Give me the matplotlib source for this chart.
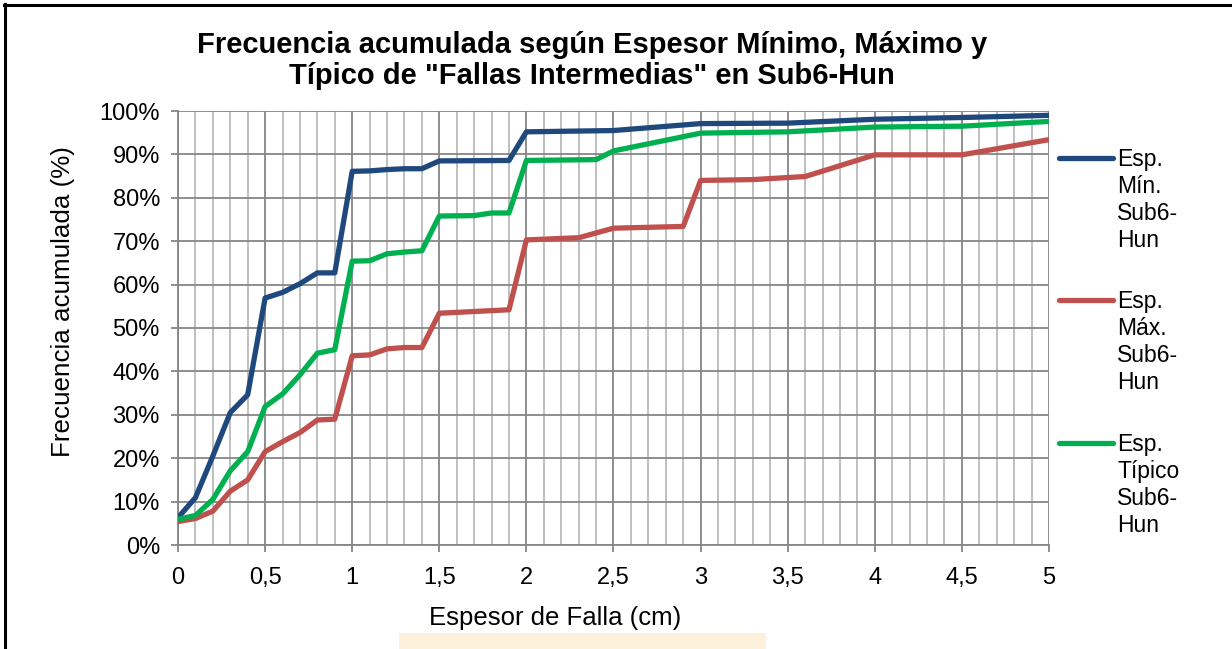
import matplotlib
matplotlib.use("Agg")
import matplotlib.pyplot as plt
from matplotlib.lines import Line2D
from matplotlib.patches import Rectangle
from matplotlib.ticker import MultipleLocator, FuncFormatter

plt.rcParams['font.family'] = ['Liberation Sans', 'DejaVu Sans']

# ---- data ----
x_min = [0, 0.1, 0.2, 0.3, 0.4, 0.5, 0.6, 0.7, 0.8, 0.9, 1.0, 1.1, 1.2, 1.3, 1.4,
         1.5, 1.9, 2.0, 2.5, 3.0, 3.5, 4.0, 4.5, 5.0]
y_min = [6.3, 10.9, 20.5, 30.5, 34.6, 56.9, 58.2, 60.2, 62.7, 62.7, 86.1, 86.2, 86.5, 86.7, 86.7,
         88.5, 88.6, 95.2, 95.5, 97.1, 97.2, 98.1, 98.5, 99.0]

x_max = [0, 0.1, 0.2, 0.3, 0.4, 0.5, 0.6, 0.7, 0.8, 0.9, 1.0, 1.1, 1.2, 1.3, 1.4,
         1.5, 1.6, 1.9, 2.0, 2.3, 2.5, 2.9, 3.0, 3.3, 3.6, 4.0, 4.5, 5.0]
y_max = [5.4, 6.1, 7.8, 12.4, 15.0, 21.5, 23.8, 25.9, 28.8, 29.0, 43.6, 43.8, 45.2, 45.5, 45.5,
         53.4, 53.6, 54.2, 70.3, 70.8, 73.0, 73.4, 84.0, 84.2, 84.9, 89.9, 89.9, 93.4]

x_tip = [0, 0.1, 0.2, 0.3, 0.4, 0.5, 0.6, 0.7, 0.8, 0.9, 1.0, 1.1, 1.2, 1.3, 1.4,
         1.5, 1.7, 1.8, 1.9, 2.0, 2.4, 2.5, 3.0, 3.5, 4.0, 4.5, 5.0]
y_tip = [5.9, 6.8, 10.5, 17.1, 21.5, 31.9, 34.8, 39.2, 44.2, 45.0, 65.4, 65.5, 67.1, 67.5, 67.8,
         75.8, 75.9, 76.5, 76.5, 88.6, 88.8, 90.8, 94.9, 95.2, 96.3, 96.5, 97.6]

series_labels = ["Esp.\nMín.\nSub6-\nHun", "Esp.\nMáx.\nSub6-\nHun", "Esp.\nTípico\nSub6-\nHun"]
series_colors = ["#1F497D", "#C0504D", "#00B050"]

title = 'Frecuencia acumulada según Espesor Mínimo, Máximo y\nTípico de "Fallas Intermedias" en Sub6-Hun'
xlabel = "Espesor de Falla (cm)"
ylabel = "Frecuencia acumulada (%)"

W, H = 1232, 649
fig = plt.figure(figsize=(W / 100, H / 100), dpi=100)
fig.patch.set_facecolor("white")

L, R, T, B = 178, 1049, 111, 545
ax = fig.add_axes([L / W, 1 - B / H, (R - L) / W, (B - T) / H])

major_c = "#868686"
minor_c = "#BABABA"

ax.set_xlim(0, 5)
ax.set_ylim(0, 100)
ax.xaxis.set_major_locator(MultipleLocator(0.5))
ax.xaxis.set_minor_locator(MultipleLocator(0.1))
ax.yaxis.set_major_locator(MultipleLocator(10))
ax.grid(which="minor", axis="x", color=minor_c, lw=1.3, zorder=0)
ax.grid(which="major", axis="x", color=major_c, lw=1.3, zorder=0.5)
ax.grid(which="major", axis="y", color=major_c, lw=1.3, zorder=0.5)
ax.set_axisbelow(True)

ax.xaxis.set_major_formatter(FuncFormatter(lambda v, p: ("%g" % v).replace(".", ",")))
ax.yaxis.set_major_formatter(FuncFormatter(lambda v, p: "%d%%" % round(v)))

for s in ["top", "right"]:
    ax.spines[s].set_visible(False)
for s in ["left", "bottom"]:
    ax.spines[s].set_color(major_c)
    ax.spines[s].set_linewidth(1.3)

ax.tick_params(axis="both", which="major", direction="out", length=5, width=1.3,
               color=major_c, labelsize=17, labelcolor="black")
ax.tick_params(axis="x", which="minor", length=0)
ax.tick_params(axis="y", pad=8)
ax.tick_params(axis="x", pad=10.5)

for xs, ys, c in zip([x_min, x_max, x_tip], [y_min, y_max, y_tip], series_colors):
    ax.plot(xs, ys, color=c, lw=3.8, solid_joinstyle="round", solid_capstyle="round", zorder=3)

# axis labels
fig.text(63 / W, 1 - 302 / H, ylabel, rotation=90, ha="center", va="center", fontsize=18.7)
fig.text(555 / W, 1 - 618 / H, xlabel, ha="center", va="center", fontsize=18.5)

# title
fig.text(592 / W, 1 - 60.5 / H, title, ha="center", va="center", fontsize=21,
         fontweight="bold", linespacing=1.15)

# legend (manual, handles aligned with first text line)
leg_y = [158, 300, 443]
for lab, c, yy in zip(series_labels, series_colors, leg_y):
    fig.add_artist(Line2D([1059 / W, 1113 / W], [1 - yy / H, 1 - yy / H], color=c, lw=3.8,
                          solid_capstyle="round", transform=fig.transFigure))
    fig.text(1117 / W, 1 - (yy - 10) / H, lab, ha="left", va="top", fontsize=16.5,
             linespacing=1.22)

# light highlight box at bottom
fig.add_artist(Rectangle((399 / W, 0), (766 - 399) / W, (649 - 633) / H, transform=fig.transFigure,
                         facecolor="#FDF1DC", edgecolor="none", zorder=0))

# black frame lines (top and left)
fig.add_artist(Line2D([4 / W, 1], [1 - 5 / H, 1 - 5 / H], color="black", lw=2.2, transform=fig.transFigure))
fig.add_artist(Line2D([5 / W, 5 / W], [0, 1 - 4 / H], color="black", lw=2.2, transform=fig.transFigure))

fig.savefig("out.png", dpi=100, facecolor="white")
